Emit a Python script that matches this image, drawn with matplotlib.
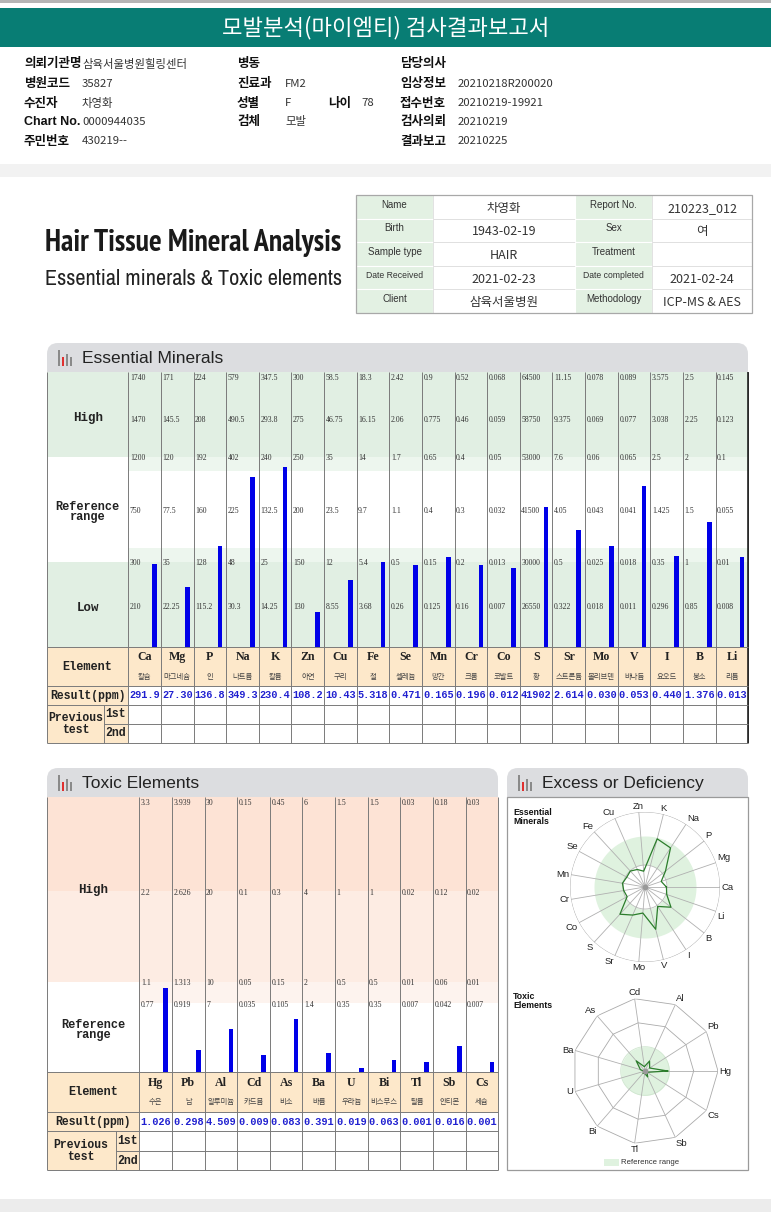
import os
import numpy as np
import matplotlib
matplotlib.use('Agg')
import matplotlib.pyplot as plt
from matplotlib.patches import Rectangle, FancyBboxPatch
from matplotlib import font_manager as fm
from matplotlib import patheffects as pe_fx

plt.rcParams['font.family'] = ['Noto Sans CJK KR', 'DejaVu Sans']

# ---------------- data ----------------
info_left = [('의뢰기관명', '삼육서울병원힐링센터'), ('병원코드', '35827'), ('수진자', '차영화'),
             ('Chart No.', '0000944035'), ('주민번호', '430219--')]
info_mid = [('병동', ''), ('진료과', 'FM2'), ('성별', 'F'), ('검체', '모발'), ('', '')]
info_right = [('담당의사', ''), ('임상정보', '20210218R200020'), ('접수번호', '20210219-19921'),
              ('검사의뢰', '20210219'), ('결과보고', '20210225')]
age = ('나이', '78')

box_labels_l = ['Name', 'Birth', 'Sample type', 'Date Received', 'Client']
box_values_l = ['차영화', '1943-02-19', 'HAIR', '2021-02-23', '삼육서울병원']
box_labels_r = ['Report No.', 'Sex', 'Treatment', 'Date completed', 'Methodology']
box_values_r = ['210223_012', '여', '', '2021-02-24', 'ICP-MS & AES']

ess_el = ['Ca', 'Mg', 'P', 'Na', 'K', 'Zn', 'Cu', 'Fe', 'Se', 'Mn', 'Cr', 'Co', 'S', 'Sr', 'Mo', 'V', 'I', 'B', 'Li']
ess_kr = ['칼슘', '마그네슘', '인', '나트륨', '칼륨', '아연', '구리', '철', '셀레늄', '망간', '크롬', '코발트',
          '황', '스트론튬', '몰리브덴', '바나듐', '요오드', '붕소', '리튬']
ess_result = ['291.9', '27.30', '136.8', '349.3', '230.4', '108.2', '10.43', '5.318', '0.471', '0.165',
              '0.196', '0.012', '41902', '2.614', '0.030', '0.053', '0.440', '1.376', '0.013']
# column scale labels, top (high) to bottom (low)
ess_ticks = [
    ['1740', '1470', '1200', '750', '300', '210'],
    ['171', '145.5', '120', '77.5', '35', '22.25'],
    ['224', '208', '192', '160', '128', '115.2'],
    ['579', '490.5', '402', '225', '48', '30.3'],
    ['347.5', '293.8', '240', '132.5', '25', '14.25'],
    ['300', '275', '250', '200', '150', '130'],
    ['58.5', '46.75', '35', '23.5', '12', '8.55'],
    ['18.3', '16.15', '14', '9.7', '5.4', '3.68'],
    ['2.42', '2.06', '1.7', '1.1', '0.5', '0.26'],
    ['0.9', '0.775', '0.65', '0.4', '0.15', '0.125'],
    ['0.52', '0.46', '0.4', '0.3', '0.2', '0.16'],
    ['0.068', '0.059', '0.05', '0.032', '0.013', '0.007'],
    ['64500', '58750', '53000', '41500', '30000', '26550'],
    ['11.15', '9.375', '7.6', '4.05', '0.5', '0.322'],
    ['0.078', '0.069', '0.06', '0.043', '0.025', '0.018'],
    ['0.089', '0.077', '0.065', '0.041', '0.018', '0.011'],
    ['3.575', '3.038', '2.5', '1.425', '0.35', '0.296'],
    ['2.5', '2.25', '2', '1.5', '1', '0.85'],
    ['0.145', '0.123', '0.1', '0.055', '0.01', '0.008'],
]

tox_el = ['Hg', 'Pb', 'Al', 'Cd', 'As', 'Ba', 'U', 'Bi', 'Tl', 'Sb', 'Cs']
tox_kr = ['수은', '납', '알루미늄', '카드뮴', '비소', '바륨', '우라늄', '비스무스', '탈륨', '안티몬', '세슘']
tox_result = ['1.026', '0.298', '4.509', '0.009', '0.083', '0.391', '0.019', '0.063', '0.001', '0.016', '0.001']
tox_ticks = [
    ['3.3', '2.2', '1.1', '0.77'],
    ['3.939', '2.626', '1.313', '0.919'],
    ['30', '20', '10', '7'],
    ['0.15', '0.1', '0.05', '0.035'],
    ['0.45', '0.3', '0.15', '0.105'],
    ['6', '4', '2', '1.4'],
    ['1.5', '1', '0.5', '0.35'],
    ['1.5', '1', '0.5', '0.35'],
    ['0.03', '0.02', '0.01', '0.007'],
    ['0.18', '0.12', '0.06', '0.042'],
    ['0.03', '0.02', '0.01', '0.007'],
]

# ---------------- style ----------------
W, H = 771, 1212
TEAL = '#087d74'
GREEN = '#e1efe3'
GREEN2 = '#edf6ee'
PEACH = '#fde8ca'
ROSE1 = '#fde3d5'
ROSE2 = '#fdece3'
ROSE3 = '#fdf3ee'
BLUE = '#0000e8'
RBLUE = '#2020d0'
HEADGREY = '#dcdde0'
LINE = '#7a7a7a'
MONO = 'Liberation Mono'
SERIF = 'Liberation Serif'
SANS = 'Liberation Sans'


def weight_of(f):
    w = f.weight
    if isinstance(w, str):
        w = fm.weight_dict.get(w, 400)
    return w


def narrow_fonts():
    out = []
    for f in fm.fontManager.ttflist:
        base = os.path.basename(f.fname)
        if f.style != 'normal' or 'Mono' in base or 'CJK' in base or 'Italic' in base:
            continue
        if ('Condensed' in base or 'Narrow' in base) and 'Semi' not in base and 'Extra' not in base \
                and 'Ultra' not in base:
            out.append(f)
    return out


def group(f):
    base = os.path.basename(f.fname)
    if 'Narrow' in base:
        return 0
    if 'DejaVu' in base:
        return 3
    return 1


nf = narrow_fonts()
if nf:
    f_bold = min(nf, key=lambda f: (group(f), abs(weight_of(f) - 700)))
    f_reg = min(nf, key=lambda f: (group(f), abs(weight_of(f) - 400)))
    FP_TITLE = fm.FontProperties(fname=f_bold.fname)
    FP_SUB = fm.FontProperties(fname=f_reg.fname)
    TITLE_W = weight_of(f_bold)
else:
    FP_TITLE = fm.FontProperties(family='Roboto', weight='bold')
    FP_SUB = fm.FontProperties(family='Roboto')
    TITLE_W = 700

fig = plt.figure(figsize=(W / 100, H / 100), dpi=100)
ax = fig.add_axes([0, 0, 1, 1])
ax.set_xlim(0, W)
ax.set_ylim(H, 0)
ax.axis('off')


def rect(x0, y0, x1, y1, fc, ec='none', lw=0, z=1):
    ax.add_patch(Rectangle((x0, y0), x1 - x0, y1 - y0, fc=fc, ec=ec, lw=lw, zorder=z))


def hline(x0, x1, y, c=LINE, lw=0.7, z=3):
    ax.plot([x0, x1], [y, y], color=c, lw=lw, zorder=z, solid_capstyle='butt')


def vline(x, y0, y1, c=LINE, lw=0.7, z=3):
    ax.plot([x, x], [y0, y1], color=c, lw=lw, zorder=z, solid_capstyle='butt')


def header(x0, x1, y0, title):
    ax.add_patch(FancyBboxPatch((x0, y0), x1 - x0, 45, boxstyle='round,pad=0,rounding_size=11',
                                fc=HEADGREY, ec='none', zorder=1))
    # small bar icon
    for dx, h, c in [(0, 16, '#8a8a8a'), (4, 9, '#e03030'), (8, 12, '#8a8a8a'), (12, 9, '#8a8a8a')]:
        rect(x0 + 11 + dx, y0 + 23 - h, x0 + 13.2 + dx, y0 + 23, c, z=2)
    ax.text(x0 + 35, y0 + 15.5, title, fontsize=12.5, family=SANS, color='#222', va='center', ha='left', zorder=2)


def fit_width(t, target):
    fig.canvas.draw()
    bb = t.get_window_extent()
    t.set_fontsize(t.get_fontsize() * target / bb.width)


# ---------------- page frame ----------------
rect(0, 0, W, 2.5, '#b5b5b5')
rect(0, 8, W, 47, TEAL)
ax.text(W / 2, 28, '모발분석(마이엠티) 검사결과보고서', color='white', fontsize=16, ha='center', va='center')
rect(0, 164, W, 177, '#f2f2f2')
rect(0, 1199, W, H, '#ececec')

rows_y = [64, 84, 103, 122, 141]
for i, y in enumerate(rows_y):
    for (lab, val), xl, xv in [(info_left[i], 24, 82), (info_mid[i], 237, 285), (info_right[i], 400, 458)]:
        if lab.startswith('Chart'):
            ax.text(xl, y, lab, family=SANS, fontsize=9, fontweight='bold', va='center', ha='left', color='#111')
        elif lab:
            ax.text(xl, y, lab, fontsize=9, fontweight='bold', va='center', ha='left', color='#111')
        if val:
            ax.text(xv, y, val, fontsize=8.2, va='center', ha='left', color='#333')
ax.text(328, rows_y[2], age[0], fontsize=9, fontweight='bold', va='center', ha='left', color='#111')
ax.text(361, rows_y[2], age[1], fontsize=8.2, va='center', ha='left', color='#333')

# ---------------- title & info box ----------------
t1 = ax.text(45, 243, 'Hair Tissue Mineral Analysis', fontproperties=FP_TITLE,
             fontsize=28, va='center', ha='left', color='#1a1a1a')
if TITLE_W < 600:
    t1.set_path_effects([pe_fx.withStroke(linewidth=1.3, foreground='#1a1a1a')])
t2 = ax.text(45, 279, 'Essential minerals & Toxic elements', fontproperties=FP_SUB,
             fontsize=16, va='center', ha='left', color='#222')
fit_width(t1, 296)
fit_width(t2, 298)

bx = [356, 433, 575, 652, 752]
by = np.linspace(195, 313, 6)
for i in range(5):
    y0, y1 = by[i], by[i + 1]
    rect(bx[0], y0, bx[1], y1, '#e3f1e3', ec='white', lw=0.8, z=2)
    rect(bx[1], y0, bx[2], y1, 'white', ec='#dddddd', lw=0.6, z=2)
    rect(bx[2], y0, bx[3], y1, '#e3f1e3', ec='white', lw=0.8, z=2)
    rect(bx[3], y0, bx[4], y1, 'white', ec='#dddddd', lw=0.6, z=2)
    ym = (y0 + y1) / 2
    fsl = 6.2 if box_labels_l[i].startswith('Date') else 7
    ax.text((bx[0] + bx[1]) / 2, ym - 2, box_labels_l[i], family=SANS, fontsize=fsl, ha='center', va='center', color='#333', zorder=3)
    fsr = 6.2 if box_labels_r[i].startswith('Date') else 7
    ax.text((bx[2] + bx[3]) / 2, ym - 2, box_labels_r[i], family=SANS, fontsize=fsr, ha='center', va='center', color='#333', zorder=3)
    ax.text((bx[1] + bx[2]) / 2, ym + 1.5, box_values_l[i], fontsize=9, ha='center', va='center', color='#333', zorder=3)
    if box_values_r[i]:
        ax.text((bx[3] + bx[4]) / 2, ym + 1.5, box_values_r[i], fontsize=9, ha='center', va='center', color='#333', zorder=3)
rect(bx[0], by[0], bx[4], by[-1], 'none', ec='#a8a8a8', lw=0.9, z=4)

# ---------------- essential minerals ----------------
header(47, 748, 343, 'Essential Minerals')
L0, C0, CW = 47, 128.3, 32.63
R0 = C0 + CW * len(ess_el)
T0, B0 = 372, 647
ess_pos = [647, 605, 560, 509, 463, 420, 378]   # screen y for 0 and each scale label (low -> high)
ess_lab_y = [378, 420, 458, 511, 563, 607]

rect(L0, T0, R0, B0, 'white')
rect(L0, T0, R0, 457, GREEN)
rect(C0, 457, R0, 471, GREEN2)
rect(C0, 548, R0, 562, GREEN2)
rect(L0, 562, R0, B0, GREEN)
ax.text((L0 + C0) / 2, 418, 'High', family=MONO, fontweight='bold', fontsize=9, ha='center', va='center', color='#222')
ax.text((L0 + C0) / 2, 512, 'Reference\nrange', family=MONO, fontweight='bold', fontsize=8.6, ha='center', va='center',
        color='#222', linespacing=0.85)
ax.text((L0 + C0) / 2, 608, 'Low', family=MONO, fontweight='bold', fontsize=9, ha='center', va='center', color='#222')

for i, el in enumerate(ess_el):
    xl = C0 + i * CW
    xc = xl + CW / 2
    for s, y in zip(ess_ticks[i], ess_lab_y):
        ax.text(xl + 1.5, y, s, family=SERIF, fontsize=5.6, ha='left', va='center', color='#333', zorder=4)
    knots = [0] + [float(s) for s in ess_ticks[i][::-1]]
    ytop = np.interp(float(ess_result[i]), knots, ess_pos)
    ax.bar(xl + 26.3, ytop - B0, bottom=B0, width=4.6, color=BLUE, zorder=5)
    ax.text(xc, 657, el, family=SERIF, fontweight='bold', fontsize=8.6, ha='center', va='center', color='#222', zorder=4)
    ax.text(xc, 677, ess_kr[i], fontsize=5.3, ha='center', va='center', color='#444', zorder=4)
    ax.text(xc, 695.5, ess_result[i], family=MONO, fontweight='bold', fontsize=7.4, ha='center', va='center',
            color=RBLUE, zorder=4)

rect(L0, B0, R0, 686, PEACH)
rect(L0, 686, C0, 743, PEACH)
ax.text((L0 + C0) / 2, 666.5, 'Element', family=MONO, fontweight='bold', fontsize=8.6, ha='center', va='center', color='#222')
ax.text((L0 + C0) / 2, 695.5, 'Result(ppm)', family=MONO, fontweight='bold', fontsize=8.3, ha='center', va='center', color='#222')
ax.text(75.5, 724, 'Previous\ntest', family=MONO, fontweight='bold', fontsize=8.3, ha='center', va='center', color='#222',
        linespacing=1.1)
ax.text(116, 714, '1st', family=MONO, fontweight='bold', fontsize=8.3, ha='center', va='center', color='#222')
ax.text(116, 733, '2nd', family=MONO, fontweight='bold', fontsize=8.3, ha='center', va='center', color='#222')

for i in range(len(ess_el) + 1):
    vline(C0 + i * CW, T0, 743)
vline(L0, T0, 743)
vline(R0, T0, 743, c='#111', lw=1.1)
vline(104, 705, 743)
for y in (B0, 686, 705, 743):
    hline(L0, R0, y)
hline(104, R0, 723.5)

# ---------------- toxic elements ----------------
header(47, 498, 768, 'Toxic Elements')
TC0 = 139.3
TR0 = TC0 + CW * len(tox_el)
TT0, TB0 = 797, 1072
tox_pos = [1072, 1005, 983, 893, 803]
tox_lab_y = [803, 893, 983, 1005]

rect(L0, TT0, TR0, TB0, 'white')
rect(L0, TT0, TR0, 891, ROSE1)
rect(L0, 891, TR0, 982, ROSE2)
rect(TC0, 982, TR0, 1003, ROSE3)
ax.text((L0 + TC0) / 2, 890, 'High', family=MONO, fontweight='bold', fontsize=9, ha='center', va='center', color='#222')
ax.text((L0 + TC0) / 2, 1030, 'Reference\nrange', family=MONO, fontweight='bold', fontsize=8.6, ha='center', va='center',
        color='#222', linespacing=0.85)

for i, el in enumerate(tox_el):
    xl = TC0 + i * CW
    xc = xl + CW / 2
    for s, y in zip(tox_ticks[i], tox_lab_y):
        ax.text(xl + 1.5, y, s, family=SERIF, fontsize=5.6, ha='left', va='center', color='#333', zorder=4)
    knots = [0] + [float(s) for s in tox_ticks[i][::-1]]
    ytop = np.interp(float(tox_result[i]), knots, tox_pos)
    ax.bar(xl + 26.3, ytop - TB0, bottom=TB0, width=4.6, color=BLUE, zorder=5)
    ax.text(xc, 1083, el, family=SERIF, fontweight='bold', fontsize=8.6, ha='center', va='center', color='#222', zorder=4)
    ax.text(xc, 1102, tox_kr[i], fontsize=5.3, ha='center', va='center', color='#444', zorder=4)
    ax.text(xc, 1122, tox_result[i], family=MONO, fontweight='bold', fontsize=7.4, ha='center', va='center',
            color=RBLUE, zorder=4)

rect(L0, TB0, TR0, 1112, PEACH)
rect(L0, 1112, TC0, 1170, PEACH)
ax.text((L0 + TC0) / 2, 1092, 'Element', family=MONO, fontweight='bold', fontsize=8.6, ha='center', va='center', color='#222')
ax.text((L0 + TC0) / 2, 1122, 'Result(ppm)', family=MONO, fontweight='bold', fontsize=8.3, ha='center', va='center', color='#222')
ax.text(81, 1151, 'Previous\ntest', family=MONO, fontweight='bold', fontsize=8.3, ha='center', va='center', color='#222',
        linespacing=1.1)
ax.text(127.5, 1141.5, '1st', family=MONO, fontweight='bold', fontsize=8.3, ha='center', va='center', color='#222')
ax.text(127.5, 1161, '2nd', family=MONO, fontweight='bold', fontsize=8.3, ha='center', va='center', color='#222')

for i in range(len(tox_el) + 1):
    vline(TC0 + i * CW, TT0, 1170)
vline(L0, TT0, 1170)
vline(116, 1131, 1170)
for y in (TB0, 1112, 1131, 1170):
    hline(L0, TR0, y)
hline(116, TR0, 1151)

# ---------------- excess or deficiency ----------------
header(507, 748, 768, 'Excess or Deficiency')
rect(507, 797, 748, 1170, 'white', ec='#9a9a9a', lw=0.9, z=2)
ax.text(513, 808, 'Essential\nMinerals', family=SANS, fontweight='bold', fontsize=6.3, ha='left', va='top',
        color='#111', linespacing=1.0, zorder=3)
ax.text(513, 992, 'Toxic\nElements', family=SANS, fontweight='bold', fontsize=6.3, ha='left', va='top',
        color='#111', linespacing=1.0, zorder=3)
rect(604, 1159, 619, 1166, '#dff2df', z=3)
ax.text(621, 1162.5, 'Reference range', family=SANS, fontsize=5.6, ha='left', va='center', color='#333', zorder=3)


def polar_at(cx, cy, r):
    pax = fig.add_axes([(cx - r) / W, 1 - (cy + r) / H, 2 * r / W, 2 * r / H], projection='polar')
    pax.set_axis_off()
    return pax


def label_radar(pax, theta, names, rr):
    for th, nm in zip(theta, names):
        c, s = np.cos(th), np.sin(th)
        ha = 'left' if c > 0.25 else ('right' if c < -0.25 else 'center')
        va = 'bottom' if s > 0.3 else ('top' if s < -0.3 else 'center')
        pax.text(th, rr, nm, family=SANS, fontsize=6.8, ha=ha, va=va, color='#222')


full = np.linspace(0, 2 * np.pi, 241)

# essential radar, radius in screen px
RE = 75
pe = polar_at(645, 887, RE)
pe.set_ylim(0, RE)
th_e = 2 * np.pi * np.arange(len(ess_el)) / len(ess_el)
pe.fill_between(full, 22, 51, color='#dff2df', lw=0, zorder=1)
for rr, c in [(22, '#bbbbbb'), (RE, '#a8a8a8')]:
    pe.plot(full, np.full_like(full, rr), color=c, lw=0.6, zorder=2)
for th in th_e:
    pe.plot([th, th], [0, RE], color='#b0b0b0', lw=0.6, zorder=2)
r_e = [np.interp(float(v), [0, float(t[4]), float(t[2]), float(t[0])], [0, 22, 51, RE])
       for v, t in zip(ess_result, ess_ticks)]
pe.plot(np.r_[th_e, th_e[0]], np.r_[r_e, r_e[0]], color='#2b7d2b', lw=0.9, zorder=4)
pe.scatter([0], [0], s=10, color='#999999', zorder=5)
label_radar(pe, th_e, ess_el, RE * 1.02)

# toxic radar, radius in units of the reference upper limit
pt = polar_at(645, 1071, 73)
pt.set_ylim(0, 3)
th_t = 2 * np.pi * np.arange(len(tox_el)) / len(tox_el)
pt.fill_between(full, 0, 1, color='#dff2df', lw=0, zorder=1)
pt.plot(full, np.ones_like(full), color='#cfe6cf', lw=0.6, zorder=2)
for k in (2, 3):
    pt.plot(np.r_[th_t, th_t[0]], np.full(len(tox_el) + 1, k), color='#aaaaaa', lw=0.6, zorder=2)
for th in th_t:
    pt.plot([th, th], [0, 3], color='#b0b0b0', lw=0.6, zorder=2)
r_t = [float(v) / float(t[2]) for v, t in zip(tox_result, tox_ticks)]
pt.plot(np.r_[th_t, th_t[0]], np.r_[r_t, r_t[0]], color='#2b7d2b', lw=0.9, zorder=4)
pt.scatter([0], [0], s=10, color='#999999', zorder=5)
label_radar(pt, th_t, tox_el, 3.06)

fig.savefig('out.png', dpi=100)
